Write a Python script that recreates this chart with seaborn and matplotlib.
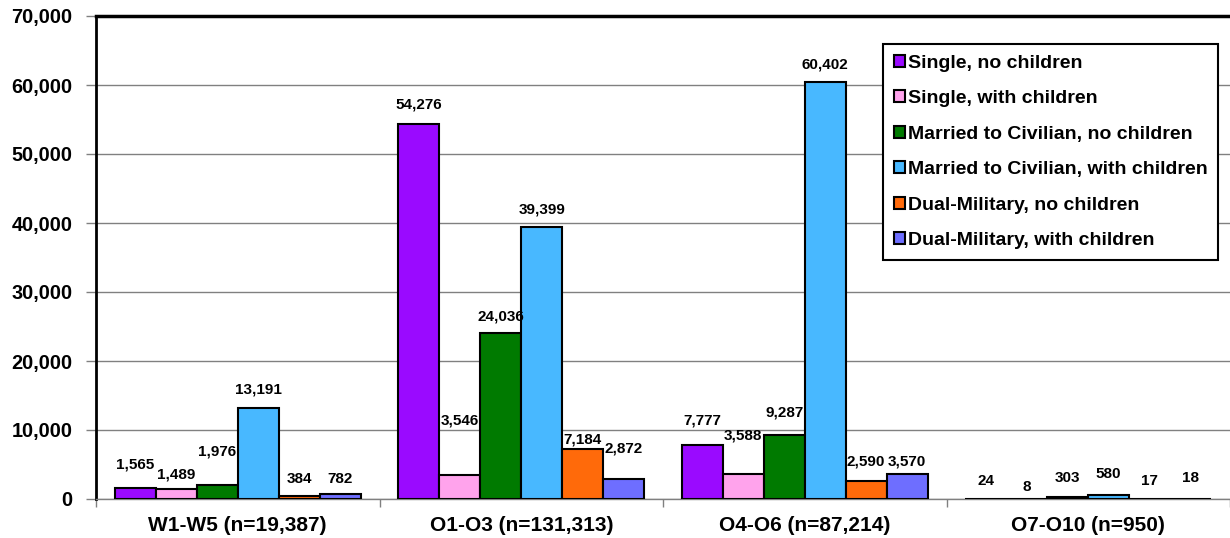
import pandas as pd
import numpy as np
import matplotlib
matplotlib.use("Agg")
import matplotlib.pyplot as plt
from matplotlib.patches import Patch
from matplotlib.ticker import FuncFormatter, MultipleLocator
import seaborn as sns

# --- data ---
grades = ["W1-W5 (n=19,387)", "O1-O3 (n=131,313)", "O4-O6 (n=87,214)", "O7-O10 (n=950)"]
statuses = [
    "Single, no children",
    "Single, with children",
    "Married to Civilian, no children",
    "Married to Civilian, with children",
    "Dual-Military, no children",
    "Dual-Military, with children",
]
single_no_kids = [1565, 54276, 7777, 24]
single_kids = [1489, 3546, 3588, 8]
married_civ_no_kids = [1976, 24036, 9287, 303]
married_civ_kids = [13191, 39399, 60402, 580]
dual_mil_no_kids = [384, 7184, 2590, 17]
dual_mil_kids = [782, 2872, 3570, 18]

colors = ["#9A0AFF", "#FFA3EC", "#007A00", "#48B8FF", "#FF6A0A", "#6E6EFF"]

# label lift above bar top (pixels), per status then per grade -- mimics Excel's staggering
label_lift = [
    [24, 20, 25, 18],
    [14, 54, 39, 12],
    [34, 17, 22, 19],
    [18, 18, 18, 21],
    [17, 10, 20, 18],
    [15, 31, 13, 21],
]

series = [single_no_kids, single_kids, married_civ_no_kids,
          married_civ_kids, dual_mil_no_kids, dual_mil_kids]
rows = []
for status, vals in zip(statuses, series):
    for grade, v in zip(grades, vals):
        rows.append({"Grade": grade, "Status": status, "Count": v})
df = pd.DataFrame(rows)

sns.set_theme(style="white")
plt.rcParams["font.family"] = ["Liberation Sans", "DejaVu Sans"]
plt.rcParams["font.weight"] = "bold"
plt.rcParams["text.color"] = "black"

fig = plt.figure(figsize=(12.3, 5.38), dpi=100)
ax = fig.add_axes([96 / 1230, 1 - 499 / 538, 1 - 96 / 1230, (499 - 16) / 538])

sns.barplot(
    data=df, x="Grade", y="Count", hue="Status",
    order=grades, hue_order=statuses, palette=colors,
    saturation=1, width=0.866, edgecolor="black", linewidth=1.5,
    legend=False, ax=ax, zorder=3,
)

# value labels
for s_idx, cont in enumerate(ax.containers):
    for g_idx, bar in enumerate(cont):
        h = bar.get_height()
        ax.annotate(f"{h:,.0f}", (bar.get_x() + bar.get_width() / 2, h),
                    xytext=(0, label_lift[s_idx][g_idx]), textcoords="offset pixels",
                    ha="center", va="center", fontsize=11, fontweight="bold",
                    color="black", zorder=5)

ax.set_ylim(0, 70000)
ax.set_xlim(-0.5, 3.5)
ax.yaxis.set_major_locator(MultipleLocator(10000))
ax.yaxis.set_major_formatter(FuncFormatter(lambda v, p: f"{v:,.0f}"))
ax.yaxis.grid(True, color="#808080", linewidth=1)
ax.set_axisbelow(True)
ax.set_xlabel("")
ax.set_ylabel("")

ax.tick_params(axis="y", length=7, width=1, color="#808080", direction="out",
               pad=10, labelsize=14.3, left=True, labelcolor="black")
ax.tick_params(axis="x", which="major", length=0, pad=12, labelsize=15,
               labelcolor="black")
ax.set_xticks(np.arange(-0.5, 3.6, 1.0), minor=True)
ax.tick_params(axis="x", which="minor", length=6, width=1, color="#808080",
               direction="out", bottom=True)
for lbl in ax.get_xticklabels() + ax.get_yticklabels():
    lbl.set_fontweight("bold")

ax.spines["left"].set_color("black")
ax.spines["left"].set_linewidth(2)
ax.spines["top"].set_color("black")
ax.spines["top"].set_linewidth(2.5)
ax.spines["bottom"].set_color("#808080")
ax.spines["bottom"].set_linewidth(1)
ax.spines["right"].set_visible(False)

handles = [Patch(facecolor=c, edgecolor="black", linewidth=1.5) for c in colors]
leg = ax.legend(handles, statuses, loc="upper right",
                bbox_to_anchor=(1218 / 1230, 1 - 44 / 538), bbox_transform=fig.transFigure,
                frameon=True, fancybox=False, framealpha=1, edgecolor="black",
                prop={"weight": "bold", "size": 14},
                handlelength=0.55, handleheight=0.55, handletextpad=0.15,
                labelspacing=0.95, borderpad=0.55, borderaxespad=0)
leg.get_frame().set_linewidth(1.5)
leg.set_zorder(10)

fig.savefig("out.png", dpi=100)
